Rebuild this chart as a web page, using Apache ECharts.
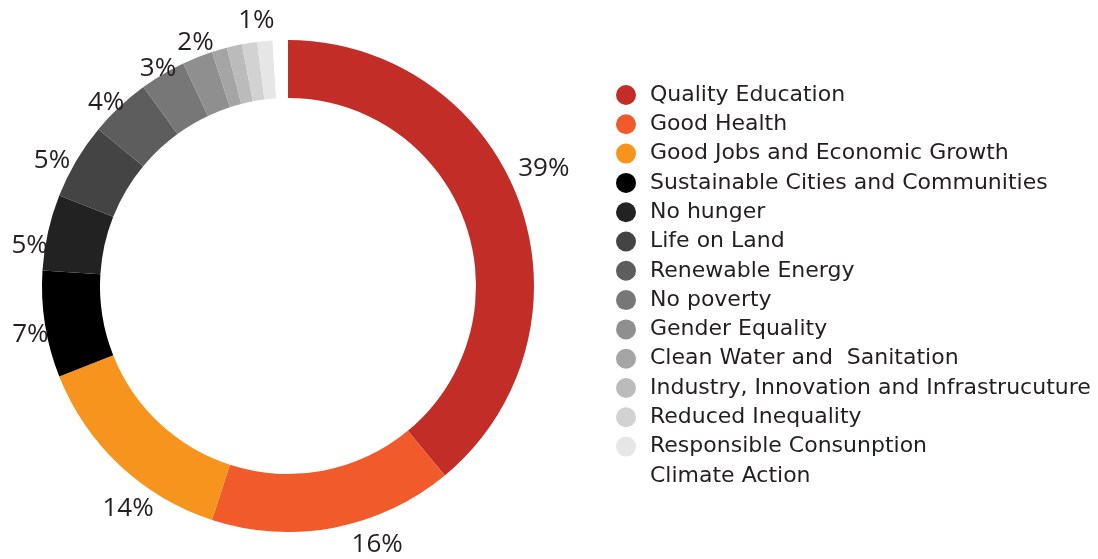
<!DOCTYPE html>
<html>
<head>
<meta charset="utf-8">
<script src="https://cdn.jsdelivr.net/npm/echarts@6/dist/echarts.min.js"></script>
<style>
html,body{margin:0;padding:0;background:#fff;}
#chart{width:1098px;height:559px;}
</style>
</head>
<body>
<div id="chart"></div>
<script>
const categories = [
  'Quality Education',
  'Good Health',
  'Good Jobs and Economic Growth',
  'Sustainable Cities and Communities',
  'No hunger',
  'Life on Land',
  'Renewable Energy',
  'No poverty',
  'Gender Equality',
  'Clean Water and  Sanitation',
  'Industry, Innovation and Infrastrucuture',
  'Reduced Inequality',
  'Responsible Consunption',
  'Climate Action'
];
const values = [39, 16, 14, 7, 5, 5, 4, 3, 2, 1, 1, 1, 1, 1];
const pctLabels = ['39%', '16%', '14%', '7%', '5%', '5%', '4%', '3%', '2%', '', '', '', '1%', ''];
const colors = ['#c22d28', '#f15a2b', '#f7941d', '#000000', '#222222', '#444444', '#5d5d5d',
  '#777777', '#8f8f8f', '#a5a5a5', '#bbbbbb', '#d2d2d2', '#e6e6e6', '#ffffff'];

// label nudges (style only)
const labelNudge = [[-1,-25],[38,-10],[27,24],[12,6],[8,19],[-1,14],[5,16],[9,18],[8,10],[0,0],[0,0],[0,0],[-6,6],[0,0]];

const chart = echarts.init(document.getElementById('chart'));
chart.setOption({
  animation: false,
  color: colors,
  legend: {
    orient: 'vertical',
    left: 611,
    top: 79,
    icon: 'circle',
    itemWidth: 38,
    itemHeight: 20,
    itemGap: 7.3,
    data: categories,
    textStyle: { fontFamily: 'DejaVu Sans', fontSize: 22, color: '#231f20', lineHeight: 21 }
  },
  series: [
    {
      type: 'pie',
      center: [288, 286],
      radius: [188, 246],
      startAngle: 90,
      clockwise: true,
      silent: true,
      label: { show: false },
      labelLine: { show: false },
      emphasis: { disabled: true },
      data: categories.map((n, i) => ({ name: n, value: values[i], itemStyle: { color: colors[i] } }))
    },
    {
      type: 'pie',
      center: [288, 286],
      radius: [255, 285],
      startAngle: 90,
      clockwise: true,
      silent: true,
      emphasis: { disabled: true },
      itemStyle: { color: 'rgba(0,0,0,0)' },
      labelLine: { show: false },
      label: {
        show: true,
        position: 'inside',
        fontFamily: 'Open Sans',
        fontSize: 26,
        color: '#231f20',
        formatter: p => pctLabels[p.dataIndex]
      },
      labelLayout: p => ({ dx: labelNudge[p.dataIndex][0], dy: labelNudge[p.dataIndex][1] }),
      data: categories.map((n, i) => ({ name: n, value: values[i] }))
    }
  ]
});
</script>
</body>
</html>
